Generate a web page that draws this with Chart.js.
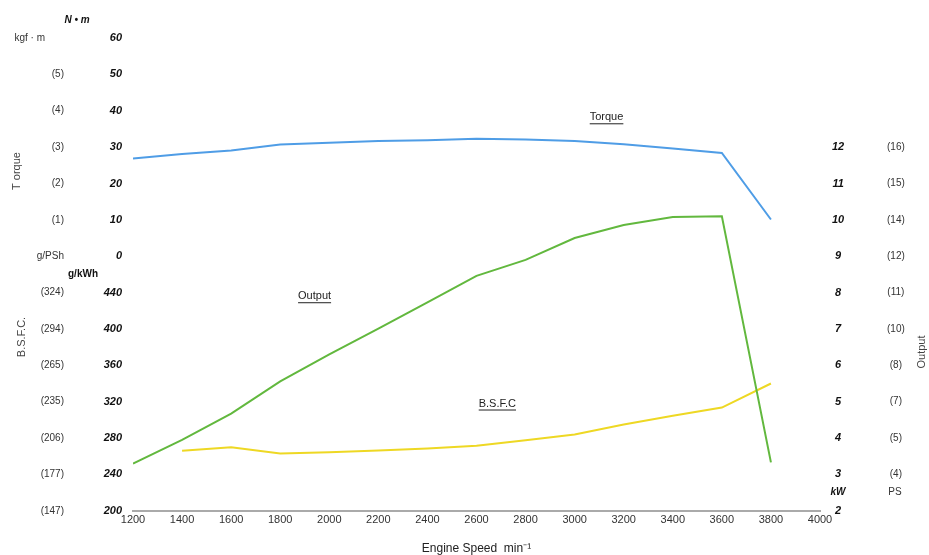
<!DOCTYPE html>
<html>
<head>
<meta charset="utf-8">
<script src="https://cdn.jsdelivr.net/npm/chart.js@4.4.1/dist/chart.umd.min.js"></script>
<style>
  html, body { margin: 0; padding: 0; background: #fff; }
  #wrap { width: 929px; height: 555px; }
</style>
</head>
<body>
<div id="wrap"><canvas id="c" width="929" height="555"></canvas></div>
<script>
// ---- data ----
const rpm = [1200, 1400, 1600, 1800, 2000, 2200, 2400, 2600, 2800, 3000, 3200, 3400, 3600, 3800];
const torqueNm = [26.9, 28.1, 29.1, 30.7, 31.2, 31.7, 31.9, 32.3, 32.1, 31.7, 30.8, 29.6, 28.4, 10.1];
const outputKw = [3.30, 3.95, 4.67, 5.56, 6.30, 7.01, 7.73, 8.46, 8.90, 9.50, 9.86, 10.08, 10.10, 3.33];
const bsfcRpm = [1400, 1600, 1800, 2000, 2200, 2400, 2600, 2800, 3000, 3200, 3400, 3600, 3800];
const bsfcGkwh = [266.0, 269.8, 263.0, 264.5, 266.2, 268.4, 271.5, 277.5, 284.0, 295.0, 304.5, 313.5, 340.0];

// ---- tick labels ----
const xTicks = [1200, 1400, 1600, 1800, 2000, 2200, 2400, 2600, 2800, 3000, 3200, 3400, 3600, 3800, 4000];
const torqueTicks = [0, 10, 20, 30, 40, 50, 60];
const torqueKgfLabels = ['g/PSh', '(1)', '(2)', '(3)', '(4)', '(5)', ''];
const bsfcTicks = [200, 240, 280, 320, 360, 400, 440];
const bsfcPsLabels = ['(147)', '(177)', '(206)', '(235)', '(265)', '(294)', '(324)'];
const outputTicks = [2, 3, 4, 5, 6, 7, 8, 9, 10, 11, 12];
const outputPsLabels = ['', '(4)', '(5)', '(7)', '(8)', '(10)', '(11)', '(12)', '(14)', '(15)', '(16)'];

// axis ranges (aligned so that each axis has 13 equal steps)
const T_MIN = -70, T_MAX = 60;
const B_MIN = 200, B_MAX = 720;
const O_MIN = 2, O_MAX = 15;

const toPts = (xs, ys) => xs.map((x, i) => ({ x: x, y: ys[i] }));
const bsfcToTorque = b => T_MIN + (b - B_MIN) / (B_MAX - B_MIN) * (T_MAX - T_MIN);
const torqueToBsfc = t => B_MIN + (t - T_MIN) / (T_MAX - T_MIN) * (B_MAX - B_MIN);

const leftTickValues = torqueTicks.concat(bsfcTicks.map(bsfcToTorque));

function leftInnerLabel(v) {
  if (v >= 0) return torqueTicks.includes(Math.round(v)) ? String(Math.round(v)) : '';
  const b = Math.round(torqueToBsfc(v));
  return bsfcTicks.includes(b) ? String(b) : '';
}
function leftOuterLabel(v) {
  if (v >= 0) {
    const i = torqueTicks.indexOf(Math.round(v));
    return i >= 0 ? torqueKgfLabels[i] : '';
  }
  const i = bsfcTicks.indexOf(Math.round(torqueToBsfc(v)));
  return i >= 0 ? bsfcPsLabels[i] : '';
}

const FONT = '"Liberation Sans", Arial, sans-serif';
const boldItalic = { family: FONT, size: 11, weight: 'bold', style: 'italic' };
const regular = { family: FONT, size: 10 };

const extraText = {
  id: 'extraText',
  afterDraw(chart) {
    const ctx = chart.ctx;
    const xs = chart.scales.x, yo = chart.scales.yO;
    ctx.save();
    ctx.textBaseline = 'middle';
    // unit headers
    ctx.fillStyle = '#111';
    ctx.textAlign = 'center';
    ctx.font = 'italic bold 10px ' + FONT;
    ctx.fillText('N • m', 77, yo.getPixelForValue(15.5));
    ctx.font = 'bold 10px ' + FONT;
    ctx.fillText('g/kWh', 83, yo.getPixelForValue(8.5));
    ctx.font = 'italic bold 10px ' + FONT;
    ctx.fillText('kW', 838, yo.getPixelForValue(2.5));
    ctx.fillStyle = '#333';
    ctx.font = '10px ' + FONT;
    ctx.fillText('PS', 895, yo.getPixelForValue(2.5));
    ctx.font = '10px ' + FONT;
    ctx.textAlign = 'right';
    ctx.fillText('kgf · m', 45, yo.getPixelForValue(15));

    // rotated axis titles
    const rot = (txt, x, y) => {
      ctx.save();
      ctx.translate(x, y);
      ctx.rotate(-Math.PI / 2);
      ctx.textAlign = 'center';
      ctx.fillText(txt, 0, 0);
      ctx.restore();
    };
    ctx.fillStyle = '#444';
    ctx.font = '11px ' + FONT;
    rot('T orque', 17, 171);
    rot('B.S.F.C.', 22, 337);
    rot('Output', 922, 352);

    // curve labels (underlined)
    const lab = (txt, rx, v) => {
      const px = xs.getPixelForValue(rx), py = yo.getPixelForValue(v);
      ctx.textAlign = 'center';
      ctx.fillText(txt, px, py);
      const w = ctx.measureText(txt).width;
      ctx.fillRect(px - w / 2, py + 6, w, 1);
    };
    ctx.fillStyle = '#222';
    ctx.font = '11px ' + FONT;
    lab('Torque', 3130, 12.82);
    lab('Output', 1940, 7.9);
    lab('B.S.F.C', 2685, 4.95);
    ctx.restore();
  }
};

new Chart(document.getElementById('c'), {
  type: 'line',
  data: {
    datasets: [
      { label: 'Torque', data: toPts(rpm, torqueNm), yAxisID: 'yT', borderColor: '#4f9de6', borderWidth: 2, pointRadius: 0, tension: 0 },
      { label: 'Output', data: toPts(rpm, outputKw), yAxisID: 'yO', borderColor: '#62b83e', borderWidth: 2, pointRadius: 0, tension: 0 },
      { label: 'B.S.F.C', data: toPts(bsfcRpm, bsfcGkwh), yAxisID: 'yB', borderColor: '#eed824', borderWidth: 2, pointRadius: 0, tension: 0 }
    ]
  },
  options: {
    responsive: false,
    animation: false,
    devicePixelRatio: 1,
    layout: { padding: { top: 38, left: 0, right: 0, bottom: 0 } },
    plugins: { legend: { display: false }, tooltip: { enabled: false } },
    scales: {
      x: {
        type: 'linear', min: 1200, max: 4000,
        afterBuildTicks: s => { s.ticks = xTicks.map(v => ({ value: v })); },
        grid: { display: false, drawTicks: false },
        border: { display: true, color: '#aaa', width: 2 },
        ticks: { padding: 3, color: '#333', font: { family: FONT, size: 11 }, maxRotation: 0, autoSkip: false, callback: v => String(v) },
        title: { display: true, text: 'Engine Speed  min⁻¹', color: '#222', font: { family: FONT, size: 12, lineHeight: 1 }, padding: { top: 13, bottom: 0 } }
      },
      yT: {
        position: 'left', weight: 0, min: T_MIN, max: T_MAX,
        afterBuildTicks: s => { s.ticks = leftTickValues.map(v => ({ value: v })); },
        afterFit: s => { s.width = 58; },
        grid: { display: false, drawTicks: false },
        border: { display: false },
        ticks: { padding: 11, color: '#111', font: boldItalic, autoSkip: false, callback: v => leftInnerLabel(v) }
      },
      yTo: {
        position: 'left', weight: 1, min: T_MIN, max: T_MAX,
        afterBuildTicks: s => { s.ticks = leftTickValues.map(v => ({ value: v })); },
        afterFit: s => { s.width = 75; },
        grid: { display: false, drawTicks: false },
        border: { display: false },
        ticks: { padding: 11, color: '#333', font: regular, autoSkip: false, callback: v => leftOuterLabel(v) }
      },
      yB: {
        display: false, position: 'left', min: B_MIN, max: B_MAX
      },
      yO: {
        position: 'right', weight: 0, min: O_MIN, max: O_MAX,
        afterBuildTicks: s => { s.ticks = outputTicks.map(v => ({ value: v })); },
        afterFit: s => { s.width = 50; },
        grid: { display: false, drawTicks: false },
        border: { display: false },
        ticks: { padding: 12, crossAlign: 'center', color: '#111', font: boldItalic, autoSkip: false, callback: v => String(v) }
      },
      yOo: {
        position: 'right', weight: 1, min: O_MIN, max: O_MAX,
        afterBuildTicks: s => { s.ticks = outputTicks.map(v => ({ value: v })); },
        afterFit: s => { s.width = 59; },
        grid: { display: false, drawTicks: false },
        border: { display: false },
        ticks: { padding: 17, crossAlign: 'center', color: '#333', font: regular, autoSkip: false,
          callback: v => { const i = outputTicks.indexOf(Math.round(v)); return i >= 0 ? outputPsLabels[i] : ''; } }
      }
    }
  },
  plugins: [extraText]
});
</script>
</body>
</html>
